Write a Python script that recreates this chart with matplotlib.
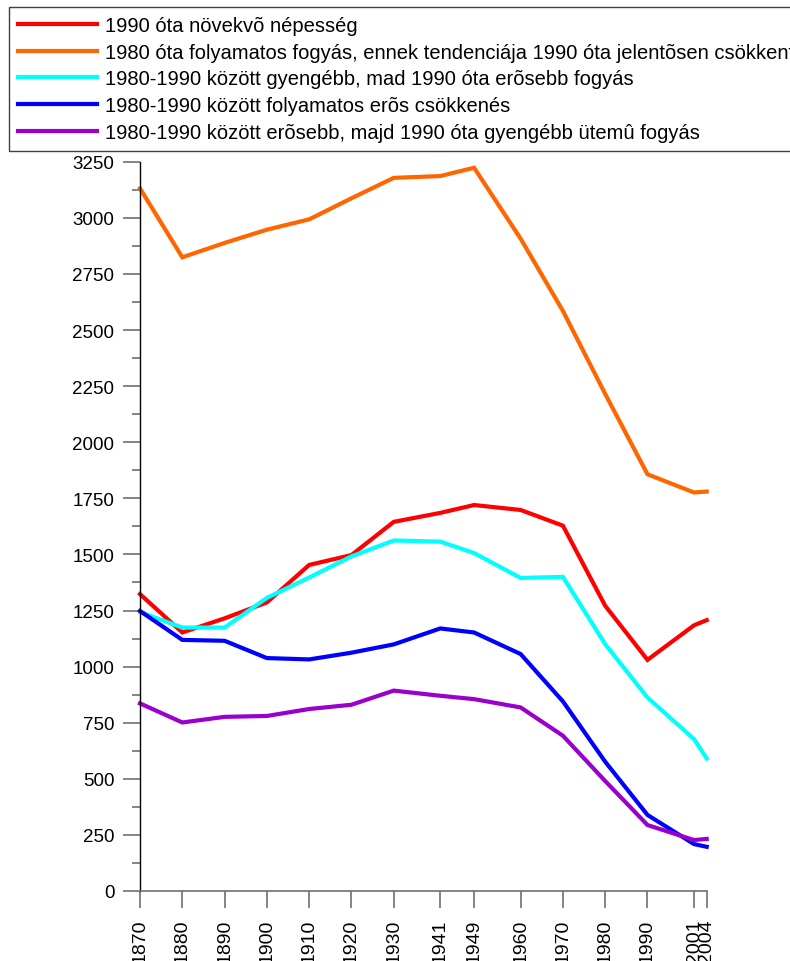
import matplotlib
matplotlib.use('Agg')
import matplotlib.pyplot as plt
from matplotlib.ticker import MultipleLocator

plt.rcParams['font.family'] = ['Liberation Sans', 'DejaVu Sans']

years = [1870, 1880, 1890, 1900, 1910, 1920, 1930, 1941, 1949, 1960, 1970, 1980, 1990, 2001, 2004]

growing = [1323, 1152, 1215, 1286, 1453, 1497, 1645, 1685, 1720, 1698, 1628, 1271, 1030, 1184, 1207]
steady_decline = [3131, 2824, 2888, 2947, 2993, 3087, 3178, 3186, 3223, 2907, 2585, 2215, 1857, 1776, 1780]
weak_then_strong = [1243, 1174, 1174, 1306, 1397, 1491, 1562, 1557, 1506, 1395, 1400, 1100, 862, 677, 591]
strong_decline = [1248, 1119, 1115, 1038, 1032, 1062, 1099, 1170, 1152, 1056, 845, 576, 339, 209, 197]
strong_then_weak = [836, 751, 776, 780, 811, 830, 893, 870, 855, 818, 692, 490, 294, 227, 232]

labels = [
    '1990 óta növekvõ népesség',
    '1980 óta folyamatos fogyás, ennek tendenciája 1990 óta jelentõsen csökkent',
    '1980-1990 között gyengébb, mad 1990 óta erõsebb fogyás',
    '1980-1990 között folyamatos erõs csökkenés',
    '1980-1990 között erõsebb, majd 1990 óta gyengébb ütemû fogyás',
]
series = [growing, steady_decline, weak_then_strong, strong_decline, strong_then_weak]
colors = ['#ff0000', '#ff6600', '#00ffff', '#0000ff', '#9900cc']


def main():
    fig = plt.figure(figsize=(7.9, 9.62), dpi=100)
    ax = fig.add_axes([140 / 790, 70 / 962, (706.7 - 140) / 790, (892 - 162.7) / 962])

    handles = []
    for vals, col, lab in zip(series, colors, labels):
        h, = ax.plot(years, vals, color=col, linewidth=3, label=lab,
                     solid_joinstyle='miter', clip_on=False)
        handles.append(h)

    ax.set_xlim(1870, 2004)
    ax.set_ylim(0, 3250)

    ax.set_xticks(years)
    ax.set_xticklabels([str(y) for y in years], rotation=90, fontsize=14, va='top')
    ax.yaxis.set_major_locator(MultipleLocator(250))
    ax.yaxis.set_minor_locator(MultipleLocator(125))
    ax.tick_params(axis='y', which='major', labelsize=13.5, length=12, width=1.2,
                   color='#707070', pad=6.5)
    ax.tick_params(axis='y', which='minor', length=5.5, width=1.2, color='#707070')
    ax.tick_params(axis='x', which='major', length=12, width=1.2, color='#707070', pad=8)

    ax.spines['top'].set_visible(False)
    ax.spines['right'].set_visible(False)
    ax.spines['left'].set_color('black')
    ax.spines['left'].set_linewidth(1.0)
    ax.spines['bottom'].set_color('#707070')
    ax.spines['bottom'].set_linewidth(1.2)

    # legend runs off the right edge, same as the source image
    leg = fig.legend(handles=handles, loc='upper left',
                     bbox_to_anchor=(9 / 790, 1 - 8 / 962),
                     fontsize=14.5, frameon=True, fancybox=False, framealpha=1,
                     edgecolor='#404040', borderpad=0.45, borderaxespad=0,
                     handlelength=3.9, handletextpad=0.4, labelspacing=0.38)
    leg.get_frame().set_linewidth(1.0)
    for line in leg.get_lines():
        line.set_linewidth(3)

    fig.savefig('out.png', dpi=100)
    plt.close(fig)


if __name__ == '__main__':
    main()
